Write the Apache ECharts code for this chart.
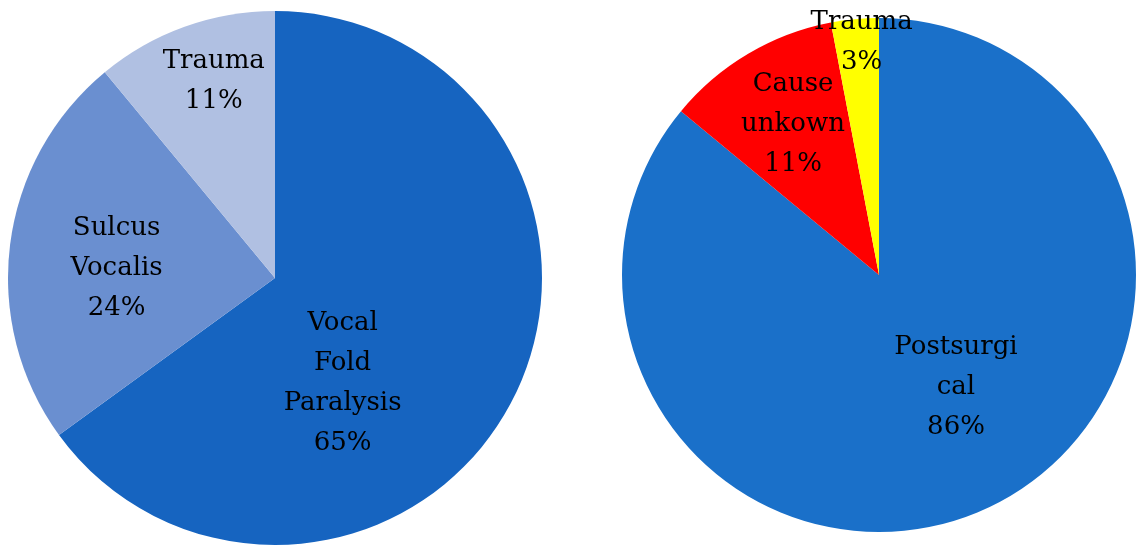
<!DOCTYPE html>
<html>
<head>
<meta charset="utf-8">
<title>Etiology distribution</title>
<script src="https://cdn.jsdelivr.net/npm/echarts@6/dist/echarts.min.js"></script>
<style>
  html, body { margin: 0; padding: 0; background: #ffffff; }
  #chart { width: 1137px; height: 545px; }
</style>
</head>
<body>
<div id="chart"></div>
<script>
// Left pie: underlying causes (percent)
const leftCategories = ['Vocal\nFold\nParalysis', 'Sulcus\nVocalis', 'Trauma'];
const leftValues = [65, 24, 11];

// Right pie: origin of the paralysis cases (percent)
const rightCategories = ['Postsurgi\ncal', 'Cause\nunkown', 'Trauma'];
const rightValues = [86, 11, 3];

const leftColors = ['#1664c0', '#6a8fd0', '#b0c0e2'];
const rightColors = ['#1a70c9', '#ff0000', '#ffff00'];

// Label nudges from the default inside anchor, per slice
const leftNudge = [[-54, 43], [-23, 7], [-15, -68]];
const rightNudge = [[21, -7], [-19, -38], [-5, -102]];

function buildData(names, values, colors) {
  return names.map((n, i) => ({ name: n, value: values[i], itemStyle: { color: colors[i] } }));
}

const labelStyle = {
  show: true,
  position: 'inside',
  formatter: '{b}\n{c}%',
  fontFamily: 'DejaVu Serif',
  fontSize: 26,
  lineHeight: 40,
  color: '#000000',
  align: 'center'
};

function pieSeries(center, radius, names, values, colors, nudge) {
  return {
    type: 'pie',
    center: center,
    radius: radius,
    startAngle: 90,
    clockwise: true,
    avoidLabelOverlap: false,
    silent: true,
    label: labelStyle,
    labelLine: { show: false },
    itemStyle: { borderWidth: 0 },
    emphasis: { disabled: true },
    labelLayout: function (params) {
      const d = nudge[params.dataIndex];
      return { dx: d[0], dy: d[1] };
    },
    data: buildData(names, values, colors)
  };
}

const chart = echarts.init(document.getElementById('chart'), null, { renderer: 'canvas' });
chart.setOption({
  animation: false,
  backgroundColor: '#ffffff',
  series: [
    pieSeries([275, 278], 267, leftCategories, leftValues, leftColors, leftNudge),
    pieSeries([879, 275], 257, rightCategories, rightValues, rightColors, rightNudge)
  ]
});
</script>
</body>
</html>
